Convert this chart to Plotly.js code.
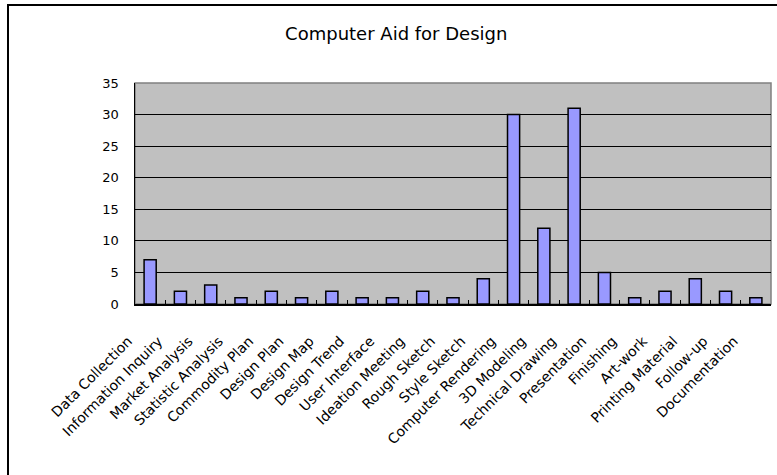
<!DOCTYPE html>
<html>
<head>
<meta charset="utf-8">
<script src="https://cdn.plot.ly/plotly-3.0.1.min.js"></script>
<style>
  html, body { margin: 0; padding: 0; background: #fff; }
  #wrap { position: relative; width: 777px; height: 475px; overflow: hidden; }
  #gd { position: absolute; left: 0; top: 0; width: 777px; height: 475px; }
  #frame { position: absolute; left: 7px; top: 4px; width: 900px; height: 600px;
           border-left: 2px solid #000; border-top: 2px solid #000; pointer-events: none; }
</style>
</head>
<body>
<div id="wrap">
  <div id="gd"></div>
  <div id="frame"></div>
</div>
<script>
const categories = [
  "Data Collection", "Information Inquiry", "Market Analysis", "Statistic Analysis",
  "Commodity Plan", "Design Plan", "Design Map", "Design Trend", "User Interface",
  "Ideation Meeting", "Rough Sketch", "Style Sketch", "Computer Rendering",
  "3D Modeling", "Technical Drawing", "Presentation", "Finishing", "Art-work",
  "Printing Material", "Follow-up", "Documentation"
];
const values = [7, 2, 3, 1, 2, 1, 2, 1, 1, 2, 1, 4, 30, 12, 31, 5, 1, 2, 4, 2, 1];
const yTicks = [0, 5, 10, 15, 20, 25, 30, 35];
const chartTitle = "Computer Aid for Design";

const fontFam = "DejaVu Sans, Liberation Sans, sans-serif";
// trailing non-breaking spaces shift the rotated labels away from the tick, as in the reference
const pad = "\u00a0".repeat(7);

const trace = {
  type: "bar",
  x: categories,
  y: values,
  marker: { color: "#9999FF", line: { color: "#000000", width: 1.5 } },
  hoverinfo: "x+y"
};

const layout = {
  width: 777, height: 475,
  margin: { l: 135, r: 6, t: 83, b: 171, pad: 0 },
  paper_bgcolor: "#ffffff",
  plot_bgcolor: "#C0C0C0",
  bargap: 0.6,
  showlegend: false,
  title: {
    text: chartTitle,
    font: { family: fontFam, size: 18, color: "#000" },
    x: 0.51, xref: "container", xanchor: "center",
    y: 0.93, yref: "container", yanchor: "middle"
  },
  font: { family: fontFam, size: 12, color: "#000" },
  xaxis: {
    type: "category",
    tickmode: "array",
    tickvals: categories,
    ticktext: categories.map(c => c + pad),
    showline: true, linecolor: "#000", linewidth: 1.5,
    ticks: "inside", tickson: "boundaries", ticklen: 4, tickcolor: "#000", tickwidth: 1,
    tickangle: -45, ticklabelstandoff: 0,
    tickfont: { family: fontFam, size: 14, color: "#000" },
    showgrid: false, zeroline: false
  },
  yaxis: {
    range: [0, 35],
    tickvals: yTicks,
    ticktext: yTicks.map(String),
    showline: true, linecolor: "#000", linewidth: 1.5,
    ticks: "", ticklabelstandoff: 12,
    tickfont: { family: fontFam, size: 13, color: "#000" },
    showgrid: true, gridcolor: "#000", gridwidth: 1,
    zeroline: false
  },
  shapes: [{
    type: "rect", xref: "paper", yref: "paper", x0: 0, x1: 1, y0: 0, y1: 1,
    line: { color: "#808080", width: 1.5 }, fillcolor: "rgba(0,0,0,0)", layer: "below"
  }]
};

Plotly.newPlot("gd", [trace], layout, { displayModeBar: false, staticPlot: true });
</script>
</body>
</html>
